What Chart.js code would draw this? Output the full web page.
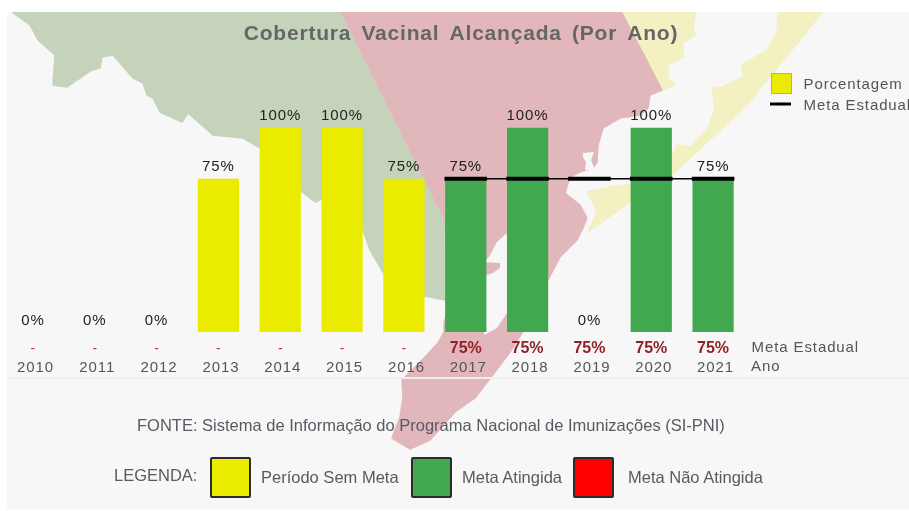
<!DOCTYPE html>
<html><head><meta charset="utf-8">
<script src="https://cdn.jsdelivr.net/npm/chart.js@4"></script>
<style>
html,body{margin:0;padding:0;background:#fff;width:909px;height:511px;overflow:hidden}
#panel{position:absolute;left:7px;top:12px;width:902px;height:498px;background:#f7f7f7}
#map{position:absolute;left:0;top:0}
#map polygon{stroke-width:1.5;stroke-linejoin:round}
#wrap{position:absolute;left:0;top:0;width:909px;height:511px}
#rule{position:absolute;left:7px;top:377px;width:902px;height:2px;background:#eeeeee}
.t{position:absolute;font-family:"Liberation Sans",Arial,sans-serif;font-size:16.5px;color:#585a62;white-space:nowrap;line-height:16px}
.s{position:absolute;top:457px;width:37px;height:37px;border:2px solid #2b2b2b;border-radius:2px}
</style></head><body>
<div id="panel"></div>
<svg id="map" width="909" height="511" viewBox="0 0 909 511">
<polygon fill="#f3f0c2" stroke="#f3f0c2" points="622,12.8 696,12.8 693,25 695,35 683,43 683,57 668,65 668,78 675,85 662,90"/>
<polygon fill="#f3f0c2" stroke="#f3f0c2" points="778,12.8 822,12.8 747,105 672,175 630,202 588,232 597,212 593,202 587,192 610,187 630,185 660,170 673,155 677,145 690,147 708,128 715,108 712,87 720,88 743,77 742,65 767,50 777,32"/>
<polygon fill="#c6d3bb" stroke="#c6d3bb" points="13,12.8 342,12.8 445,220 445,300 425,296 383,272 370,250 363,230 322,199 315,202 302,192 260,148 243,138 213,135 188,113 182,122 160,112 153,98 147,95 143,83 133,78 113,55 102,57 100,68 92,70 67,87 53,85 55,55 38,40 30,25"/>
<polygon fill="#e2b7bb" stroke="#e2b7bb" points="342,12.8 622,12.8 662,90 650,95 648,108 640,115 620,118 603,128 598,145 597,162 593,168 580,172 570,177 565,193 580,205 587,218 583,228 577,240 560,257 548,280 530,320 510,352 498,368 475,398 455,412 430,440 410,449 392,438 400,417 403,397 402,380 425,357 438,343 444,332 444,323 450,300 445,220"/>
<polygon fill="#f7f7f7" points="507,233 497,242 489,257 484,262 500,263 500,268 493,273 484,276 484,335 497,328 507,313 512,300 512,233"/>
<polygon fill="#f7f7f7" points="583,153 594,152 591,160 595,170 585,170 586,162 583,157"/>
</svg>
<div id="rule"></div>
<div id="wrap"><canvas id="c" width="909" height="511"></canvas></div>
<div class="t" style="left:137px;top:417px">FONTE: Sistema de Informação do Programa Nacional de Imunizações (SI-PNI)</div>
<div class="t" style="left:114px;top:467px">LEGENDA:</div>
<div class="s" style="left:210px;background:#ebeb00"></div>
<div class="t" style="left:261px;top:469px">Período Sem Meta</div>
<div class="s" style="left:411px;background:#42a84f"></div>
<div class="t" style="left:462px;top:469px">Meta Atingida</div>
<div class="s" style="left:573px;background:#ff0000"></div>
<div class="t" style="left:628px;top:469px">Meta Não Atingida</div>
<script>
const anos = ['2010','2011','2012','2013','2014','2015','2016','2017','2018','2019','2020','2021'];
const porcentagem = [0,0,0,75,100,100,75,75,100,0,100,75];
const metaEstadual = [null,null,null,null,null,null,null,75,75,75,75,75];
const metaTexto = ['-','-','-','-','-','-','-','75%','75%','75%','75%','75%'];
const coresBarras = ['#ebeb00','#ebeb00','#ebeb00','#ebeb00','#ebeb00','#ebeb00','#ebeb00','#42a84f','#42a84f','#42a84f','#42a84f','#42a84f'];
const FONT = '"Liberation Sans",Arial,sans-serif';
const labels = {
  id:'labels',
  afterDraw(ch){
    const c=ch.ctx, x=ch.scales.x, y=ch.scales.y;
    c.save();
    c.textBaseline='alphabetic';
    c.textAlign='center';
    c.letterSpacing='0.9px';
    c.font='15px '+FONT; c.fillStyle='#222';
    anos.forEach((a,i)=>{ c.fillText(porcentagem[i]+'%', x.getPixelForValue(i), y.getPixelForValue(porcentagem[i])-7.5); });
    c.fillStyle='#555';
    anos.forEach((a,i)=>{ c.fillText(a, x.getPixelForValue(i)+2.5, 371.5); });
    c.letterSpacing='0px';
    metaTexto.forEach((m,i)=>{
      c.font=(m==='-'?'14px ':'bold 16px ')+FONT;
      c.fillStyle=m==='-'?'#c03b3b':'#8e2226';
      c.fillText(m, x.getPixelForValue(i), 352.5);
    });
    c.textAlign='left';
    c.letterSpacing='0.9px';
    c.font='15px '+FONT; c.fillStyle='#555';
    c.fillText('Meta Estadual',751.5,351.5);
    c.fillText('Ano',751,370.5);
    c.fillText('Porcentagem',803.5,88.5);
    c.fillText('Meta Estadual',803.5,109.5);
    c.fillStyle='#ebeb00'; c.strokeStyle='#b3b36a'; c.lineWidth=1;
    c.fillRect(771.5,73.5,20,20); c.strokeRect(771.5,73.5,20,20);
    c.fillStyle='#000'; c.fillRect(770,102.5,21,3);
    c.letterSpacing='0.8px'; c.wordSpacing='3.5px';
    c.font='bold 21px '+FONT; c.fillStyle='#666'; c.textAlign='center';
    c.fillText('Cobertura Vacinal Alcançada (Por Ano)',461,40);
    c.restore();
  }
};
new Chart(document.getElementById('c'),{
  data:{labels:anos,datasets:[
    {type:'line',label:'Meta Estadual',data:metaEstadual,borderColor:'#000',borderWidth:1.5,
     pointStyle:'line',pointRadius:21.3,pointHoverRadius:21.3,pointBorderWidth:4,pointBorderColor:'#000',order:0,spanGaps:true},
    {type:'bar',label:'Porcentagem',data:porcentagem,backgroundColor:coresBarras,categoryPercentage:1,barPercentage:0.667,order:1}
  ]},
  options:{responsive:false,animation:false,
    layout:{autoPadding:false,padding:{left:2,right:165,top:127.5,bottom:179}},
    plugins:{legend:{display:false},tooltip:{enabled:false},title:{display:false}},
    scales:{x:{display:false,offset:true},y:{display:false,min:0,max:100}}},
  plugins:[labels]
});
</script>
</body></html>
